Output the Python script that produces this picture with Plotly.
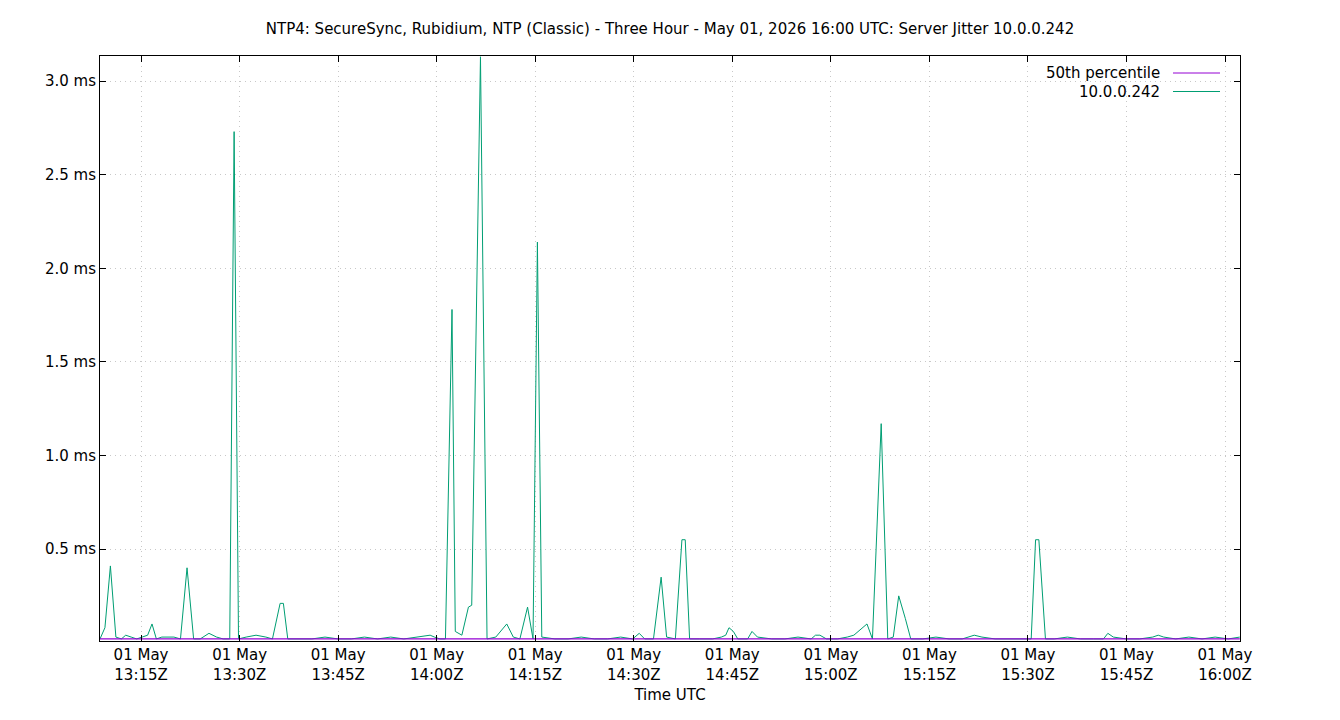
import plotly.graph_objects as go

# --- Data ---
day = "2026-05-01 "
jitter_times = [
    "13:08:45", "13:09:30", "13:10:20", "13:11:10", "13:12:00", "13:12:40", "13:13:30", "13:14:20",
    "13:15:10", "13:16:00", "13:16:40", "13:17:20", "13:18:10", "13:19:00", "13:20:00", "13:21:00",
    "13:22:00", "13:23:00", "13:24:00", "13:25:20", "13:26:30", "13:27:30", "13:28:30", "13:29:10",
    "13:29:50", "13:31:00", "13:32:30", "13:34:00", "13:35:00", "13:36:10", "13:36:40", "13:37:20",
    "13:39:00", "13:41:00", "13:43:00", "13:45:00", "13:47:00", "13:49:00", "13:51:00", "13:53:00",
    "13:55:00", "13:57:00", "13:59:00", "13:59:40", "14:00:30", "14:01:20", "14:02:20", "14:02:50",
    "14:03:50", "14:04:50", "14:05:20", "14:06:40", "14:07:40", "14:09:00", "14:10:40", "14:11:40",
    "14:12:40", "14:13:50", "14:14:40", "14:15:20", "14:16:00", "14:18:00", "14:20:00", "14:22:00",
    "14:24:00", "14:26:00", "14:28:00", "14:29:50", "14:30:50", "14:31:40", "14:33:00", "14:34:10",
    "14:35:00", "14:36:20", "14:37:20", "14:37:50", "14:38:30", "14:40:00", "14:42:00", "14:43:20",
    "14:44:00", "14:44:30", "14:45:10", "14:45:50", "14:47:20", "14:48:00", "14:48:50", "14:51:00",
    "14:53:00", "14:55:00", "14:57:00", "14:57:40", "14:58:20", "14:59:20", "15:01:00", "15:02:30",
    "15:03:30", "15:05:30", "15:06:20", "15:07:40", "15:08:40", "15:09:30", "15:10:20", "15:11:20",
    "15:12:10", "15:14:00", "15:16:00", "15:18:00", "15:20:00", "15:21:50", "15:23:00", "15:25:00",
    "15:27:00", "15:29:00", "15:30:30", "15:31:10", "15:31:40", "15:32:40", "15:34:00", "15:36:00",
    "15:38:00", "15:40:00", "15:41:30", "15:42:10", "15:43:00", "15:45:00", "15:47:00", "15:49:00",
    "15:49:50", "15:50:40", "15:52:30", "15:54:30", "15:56:30", "15:58:30", "16:00:30", "16:02:15",
]
jitter_ms = [
    0.02, 0.08, 0.41, 0.03, 0.02, 0.04, 0.03, 0.02,
    0.03, 0.04, 0.10, 0.02, 0.03, 0.03, 0.03, 0.02,
    0.40, 0.02, 0.02, 0.05, 0.03, 0.02, 0.02, 2.73,
    0.02, 0.03, 0.04, 0.03, 0.02, 0.21, 0.21, 0.02,
    0.02, 0.02, 0.03, 0.02, 0.02, 0.03, 0.02, 0.03,
    0.02, 0.03, 0.04, 0.03, 0.02, 0.02, 1.78, 0.06,
    0.04, 0.19, 0.20, 3.13, 0.02, 0.03, 0.10, 0.03,
    0.02, 0.19, 0.02, 2.14, 0.03, 0.02, 0.02, 0.03,
    0.02, 0.02, 0.03, 0.02, 0.05, 0.02, 0.02, 0.35,
    0.03, 0.02, 0.55, 0.55, 0.02, 0.02, 0.02, 0.03,
    0.04, 0.08, 0.06, 0.02, 0.02, 0.06, 0.03, 0.02,
    0.02, 0.03, 0.02, 0.04, 0.04, 0.02, 0.02, 0.03,
    0.04, 0.10, 0.02, 1.17, 0.02, 0.03, 0.25, 0.13,
    0.02, 0.02, 0.03, 0.02, 0.02, 0.04, 0.03, 0.02,
    0.02, 0.02, 0.02, 0.55, 0.55, 0.02, 0.02, 0.03,
    0.02, 0.02, 0.02, 0.05, 0.03, 0.02, 0.02, 0.03,
    0.04, 0.03, 0.02, 0.03, 0.02, 0.03, 0.02, 0.03,
]
median_times = ["13:08:45", "16:02:15"]
median_ms = [0.02, 0.02]

tick_times = ["13:15", "13:30", "13:45", "14:00", "14:15", "14:30", "14:45",
              "15:00", "15:15", "15:30", "15:45", "16:00"]
y_ticks = [0.5, 1.0, 1.5, 2.0, 2.5, 3.0]

GREEN = "#009e73"
PURPLE = "#9400d3"
FONT = "DejaVu Sans"

fig = go.Figure()
fig.add_trace(go.Scatter(x=[day + t for t in jitter_times], y=jitter_ms, mode="lines",
                         line=dict(color=GREEN, width=1), name="10.0.0.242"))
fig.add_trace(go.Scatter(x=[day + t for t in median_times], y=median_ms, mode="lines",
                         line=dict(color=PURPLE, width=1.2), name="50th percentile"))

axis_common = dict(showline=True, linecolor="black", linewidth=1, mirror="ticks",
                   ticks="inside", ticklen=6, tickcolor="black",
                   showgrid=True, gridcolor="#c8c8c8", griddash="1px,4px", gridwidth=1,
                   zeroline=False, tickfont=dict(size=15, color="black"))

# page adds ~8px offset, so margins are shifted to compensate
fig.update_layout(
    width=1340, height=720,
    margin=dict(l=92, r=108, t=48, b=87),
    paper_bgcolor="white", plot_bgcolor="white",
    font=dict(family=FONT, size=15, color="black"),
    showlegend=False,
    title=dict(text="NTP4: SecureSync, Rubidium, NTP (Classic) - Three Hour - May 01, 2026 16:00 UTC: Server Jitter 10.0.0.242",
               x=(670 - 8) / 1340, xanchor="center", y=1 - (21 / 720), yanchor="middle", font=dict(size=15)),
    xaxis=dict(axis_common, range=[day + "13:08:45", day + "16:02:17"],
               tickvals=[day + t for t in tick_times],
               ticktext=["01 May<br>%sZ" % t for t in tick_times],
               title=dict(text="Time UTC", standoff=6, font=dict(size=15))),
    yaxis=dict(axis_common, range=[0.009, 3.134],
               tickvals=y_ticks, ticktext=["%.1f ms" % v for v in y_ticks]),
)

# gnuplot-style legend: text on the left, line sample on the right
for i, (label, color) in enumerate([("50th percentile", PURPLE), ("10.0.0.242", GREEN)]):
    yy = 73 + 18.5 * i
    ypos = 1 - (yy - 56) / 585
    fig.add_annotation(text=label, xref="paper", yref="paper", x=(1162 - 100) / 1140,
                       y=ypos, xanchor="right", yanchor="middle",
                       showarrow=False, font=dict(size=15))
    fig.add_shape(type="line", xref="paper", yref="paper",
                  x0=(1173 - 100) / 1140, x1=(1220 - 100) / 1140,
                  y0=ypos, y1=ypos, line=dict(color=color, width=1))

fig.write_html("out.html")
